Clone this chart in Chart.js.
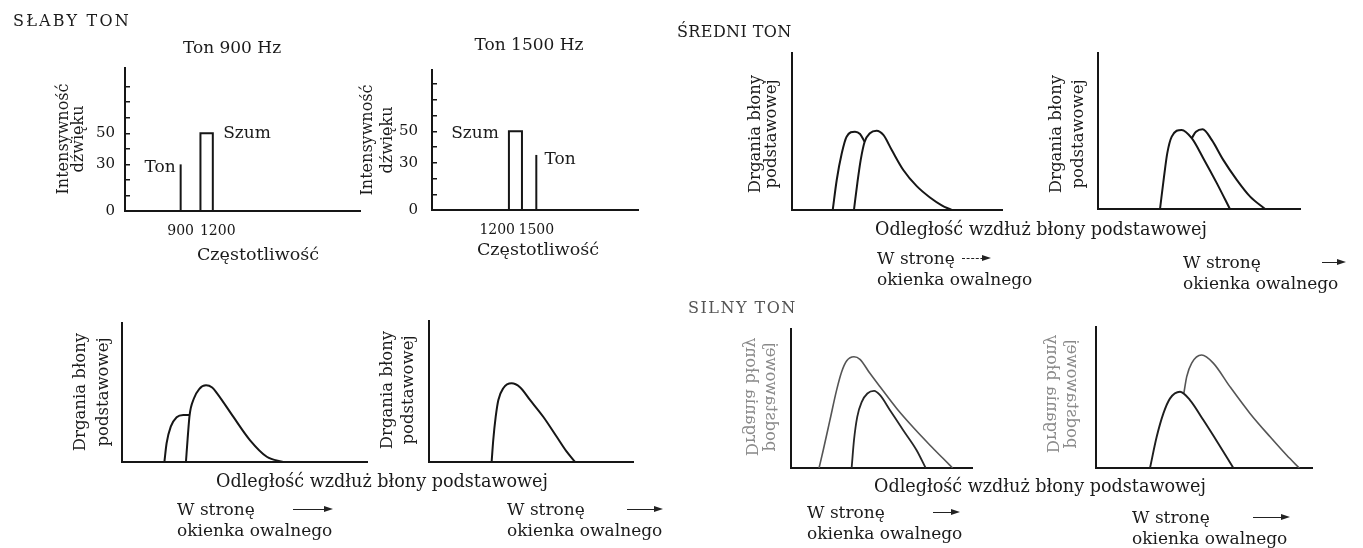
<!DOCTYPE html>
<html lang="pl">
<head>
<meta charset="utf-8">
<title>Słaby, średni i silny ton</title>
<script src="https://cdn.jsdelivr.net/npm/chart.js@4.4.1/dist/chart.umd.min.js"></script>
<style>
html, body { margin: 0; padding: 0; background: #fff; }
#page { position: relative; width: 1363px; height: 548px; overflow: hidden; font-family: 'DejaVu Serif', serif; color: #1b1b1b; }
#page canvas { position: absolute; }
.t { position: absolute; white-space: nowrap; line-height: 1; }
.arrow { position: absolute; height: 0; border-top: 1.5px solid #222; }
.arrow.dash { border-top-style: dashed; }
.arrow::after { content: ''; position: absolute; right: -3px; top: -4.5px; border-left: 9px solid #222; border-top: 3.5px solid transparent; border-bottom: 3.5px solid transparent; }
</style>
</head>
<body>
<div id="page"></div>
<script>
// SŁABY TON - widma: [częstotliwość Hz, intensywność]
const TON900_TONE = [[900, 0], [900, 30]];
const TON900_NOISE = [[1060, 0], [1060, 50], [1160, 50], [1160, 0]];
const TON1500_NOISE = [[1290, 0], [1290, 50], [1390, 50], [1390, 0]];
const TON1500_TONE = [[1500, 0], [1500, 35]];
const INTENSITY_TICKS = [0, 10, 20, 30, 40, 50, 60, 70, 80];
const INTENSITY_LABELS = [0, 30, 50];
const TON900_FREQ_TICKS = [900, 1200];
const TON1500_FREQ_TICKS = [1200, 1500];

// drgania błony podstawowej: [odległość, amplituda], obie osie 0-100
const WEAK900_A = [[17.3, 0], [18.2, 13.5], [19.9, 25.4], [22.3, 32.2], [25.0, 33.8], [27.6, 33.8]];
const WEAK900_B = [[26.1, 0], [26.8, 17], [27.6, 33.8], [29.3, 45.5], [31.5, 52.5], [34.3, 55.2], [36.8, 53.6], [38.8, 49.4], [45.4, 32.6], [52.2, 15.8], [59.1, 3.8], [65.8, 0]];
const WEAK1500 = [[30.7, 0], [31.5, 15.6], [32.7, 32.1], [34.0, 44.0], [36.4, 52.3], [40.5, 55.8], [44.6, 53.0], [49.5, 44.0], [56.0, 32.1], [62.6, 17.9], [67.5, 7.3], [71.6, 0]];
const MID900_A = [[19.4, 0], [21.3, 19.1], [23.7, 36.1], [26.0, 46.7], [30.0, 49.9], [32.4, 48.4], [34.6, 43.5]];
const MID900_B = [[29.5, 0], [31.1, 17.0], [32.7, 31.8], [34.6, 43.5], [37.1, 48.9], [40.3, 50.5], [43.5, 47.8], [47.5, 38.2], [53.0, 25.5], [59.4, 15.2], [65.7, 8.0], [71.3, 3.0], [76.0, 0]];
const MID1500_A = [[30.7, 0], [32.7, 20.9], [34.3, 35.8], [36.5, 46.4], [41.4, 50.7], [46.4, 45.4], [52.1, 32.6], [58.8, 16.6], [65.3, 0]];
const MID1500_B = [[46.4, 45.4], [48.5, 49.5], [51.8, 51.2], [56.3, 44.3], [62.0, 31.5], [68.7, 18.7], [75.2, 8.1], [82.7, 0]];
const STRONG900_A = [[15.5, 0], [17.8, 12.8], [21.5, 34.4], [25.2, 56.0], [28.0, 69.2], [30.8, 77.1], [34.8, 80.0], [38.1, 78.2], [43.6, 68.1], [49.2, 58.4], [58.4, 42.8], [67.6, 29.1], [76.8, 16.4], [84.1, 6.8], [89.3, 0]];
const STRONG900_B = [[33.5, 0], [34.8, 20.0], [36.6, 36.8], [39.1, 47.6], [42.2, 53.6], [45.9, 55.5], [49.2, 52.4], [54.7, 41.6], [62.0, 27.2], [69.4, 12.8], [74.4, 0]];
const STRONG1500_A = [[25.0, 0], [28.1, 22.1], [31.2, 38.7], [34.3, 49.4], [38.9, 54.1], [43.5, 48.2], [49.7, 34.0], [56.6, 17.4], [63.6, 0]];
const STRONG1500_B = [[40.7, 53.2], [42.0, 64.8], [44.3, 74.4], [48.9, 80.1], [54.3, 74.4], [62.0, 57.7], [71.3, 38.7], [80.6, 22.1], [88.3, 9.0], [94.1, 0]];

const page = document.getElementById('page');
const INK = '#161616';
const TICK_FONT = { family: 'DejaVu Serif', size: 14 };

const pts = arr => arr.map(([x, y]) => ({ x, y }));
const curve = (arr, color = INK, width = 2) => ({ data: pts(arr), borderColor: color, borderWidth: width, pointRadius: 0, fill: false, cubicInterpolationMode: 'monotone' });
const straight = (arr) => ({ data: pts(arr), borderColor: INK, borderWidth: 2, pointRadius: 0, fill: false, tension: 0 });

// frame = axis box on the page: y axis at x0, baseline at y1
function panel(frame, cfg) {
  const yw = 70, pt = 40, pr = 20, xh = 45;
  const w = frame.x1 - frame.x0 + yw + pr;
  const h = frame.y1 - frame.y0 + pt + xh;
  const c = document.createElement('canvas');
  c.width = w; c.height = h;
  c.style.left = (frame.x0 - yw) + 'px';
  c.style.top = (frame.y0 - pt) + 'px';
  c.style.width = w + 'px'; c.style.height = h + 'px';
  page.appendChild(c);

  const x = {
    type: 'linear', min: cfg.xMin ?? 0, max: cfg.xMax ?? 100,
    afterFit: s => { s.height = xh; },
    grid: { display: false },
    border: { display: true, color: INK, width: 2 },
    ticks: { display: false }
  };
  if (cfg.xTicks) {
    x.afterBuildTicks = s => { s.ticks = cfg.xTicks.map(v => ({ value: v })); };
    x.ticks = { display: true, autoSkip: false, maxRotation: 0, padding: 4, font: TICK_FONT, color: INK, callback: v => String(v) };
  }
  const y = {
    type: 'linear', min: 0, max: cfg.yMax ?? 100,
    afterFit: s => { s.width = yw; },
    grid: { display: false },
    border: { display: true, color: INK, width: 2 },
    ticks: { display: false }
  };
  if (cfg.yTicks) {
    y.afterBuildTicks = s => { s.ticks = cfg.yTicks.map(v => ({ value: v })); };
    y.grid = { display: true, drawOnChartArea: false, drawTicks: true, tickLength: -5, color: INK, lineWidth: 1.5 };
    y.ticks = { display: true, autoSkip: false, padding: cfg.yPad, font: { family: 'DejaVu Serif', size: 15 }, color: INK,
      callback: v => INTENSITY_LABELS.includes(v) ? String(v) : '' };
  }

  new Chart(c, {
    type: 'line',
    data: { datasets: cfg.datasets },
    options: {
      responsive: false, animation: false, events: [],
      layout: { padding: { left: 0, top: pt, right: pr, bottom: 0 } },
      plugins: { legend: { display: false }, tooltip: { enabled: false } },
      scales: { x, y }
    }
  });
}

function text(str, x, y, o = {}) {
  const d = document.createElement('div');
  d.className = 't';
  d.textContent = str;
  d.style.left = x + 'px';
  d.style.top = y + 'px';
  d.style.fontSize = (o.size || 17) + 'px';
  if (o.color) d.style.color = o.color;
  if (o.ls) d.style.letterSpacing = o.ls + 'px';
  let tf = o.left ? 'translate(0,-50%)' : 'translate(-50%,-50%)';
  if (o.rot) tf += ' rotate(-90deg)';
  if (o.mirror) tf += ' scaleY(-1)';
  d.style.transform = tf;
  page.appendChild(d);
}

function arrow(x0, x1, y, dashed) {
  const a = document.createElement('div');
  a.className = dashed ? 'arrow dash' : 'arrow';
  a.style.left = x0 + 'px';
  a.style.top = y + 'px';
  a.style.width = (x1 - x0) + 'px';
  page.appendChild(a);
}

function towardWindow(x, y, ax0, ax1, dashed) {
  text('W stronę', x, y, { left: true });
  arrow(ax0, ax1, y, dashed);
  text('okienka owalnego', x, y + 21, { left: true });
}

// --- SŁABY TON ---
panel({ x0: 125, x1: 360, y0: 68, y1: 211 }, {
  xMin: 450, xMax: 2350, yMax: 92, xTicks: TON900_FREQ_TICKS, yTicks: INTENSITY_TICKS, yPad: 15,
  datasets: [straight(TON900_TONE), straight(TON900_NOISE)]
});
panel({ x0: 432, x1: 638, y0: 70, y1: 210 }, {
  xMin: 700, xMax: 2280, yMax: 89, xTicks: TON1500_FREQ_TICKS, yTicks: INTENSITY_TICKS, yPad: 19,
  datasets: [straight(TON1500_NOISE), straight(TON1500_TONE)]
});
panel({ x0: 122, x1: 367, y0: 323, y1: 462 }, { datasets: [curve(WEAK900_A), curve(WEAK900_B)] });
panel({ x0: 429, x1: 633, y0: 321, y1: 462 }, { datasets: [curve(WEAK1500)] });

// --- ŚREDNI TON ---
panel({ x0: 792, x1: 1002, y0: 53, y1: 210 }, { datasets: [curve(MID900_A), curve(MID900_B)] });
panel({ x0: 1098, x1: 1300, y0: 53, y1: 209 }, { datasets: [curve(MID1500_A), curve(MID1500_B)] });

// --- SILNY TON ---
panel({ x0: 791, x1: 972, y0: 329, y1: 468 }, { datasets: [curve(STRONG900_A, '#555', 1.6), curve(STRONG900_B, '#262626', 1.8)] });
panel({ x0: 1096, x1: 1312, y0: 327, y1: 468 }, { datasets: [curve(STRONG1500_A, '#1e1e1e', 1.9), curve(STRONG1500_B, '#555', 1.6)] });

// teksty
text('SŁABY TON', 13, 21, { left: true, size: 16, ls: 2.2 });
text('Ton 900 Hz', 232, 47);
text('Ton 1500 Hz', 529, 44);
text('Ton', 160, 166);
text('Szum', 247, 132);
text('Szum', 475, 132);
text('Ton', 560, 158);
text('Częstotliwość', 258, 255, { size: 17.5 });
text('Częstotliwość', 538, 250, { size: 17.5 });
text('Intensywność', 63, 139, { size: 16, rot: true });
text('dźwięku', 78, 139, { size: 16, rot: true });
text('Intensywność', 367, 140, { size: 16, rot: true });
text('dźwięku', 387, 140, { size: 16, rot: true });

text('Drgania błony', 80, 392, { size: 16.5, rot: true });
text('podstawowej', 103, 392, { size: 16.5, rot: true });
text('Drgania błony', 387, 390, { size: 16.5, rot: true });
text('podstawowej', 408, 390, { size: 16.5, rot: true });
text('Odległość wzdłuż błony podstawowej', 382, 482, { size: 17.6 });
towardWindow(177, 509, 293, 330);
towardWindow(507, 509, 627, 660);

text('ŚREDNI TON', 677, 32, { left: true, size: 16, ls: 0.4 });
text('Drgania błony', 755, 134, { size: 16.5, rot: true });
text('podstawowej', 771, 134, { size: 16.5, rot: true });
text('Drgania błony', 1056, 134, { size: 16.5, rot: true });
text('podstawowej', 1078, 134, { size: 16.5, rot: true });
text('Odległość wzdłuż błony podstawowej', 1041, 230, { size: 17.6 });
towardWindow(877, 258, 962, 988, true);
towardWindow(1183, 262, 1322, 1343);

text('SILNY TON', 688, 308, { left: true, size: 16, ls: 1.5, color: '#555' });
text('Drgania błony', 751, 397, { size: 16.5, rot: true, mirror: true, color: '#8a8a8a' });
text('podstawowej', 771, 397, { size: 16.5, rot: true, mirror: true, color: '#8a8a8a' });
text('Drgania błony', 1052, 394, { size: 16.5, rot: true, mirror: true, color: '#8a8a8a' });
text('podstawowej', 1072, 394, { size: 16.5, rot: true, mirror: true, color: '#8a8a8a' });
text('Odległość wzdłuż błony podstawowej', 1040, 487, { size: 17.6 });
towardWindow(807, 512, 933, 957);
towardWindow(1132, 517, 1253, 1287);
</script>
</body>
</html>
